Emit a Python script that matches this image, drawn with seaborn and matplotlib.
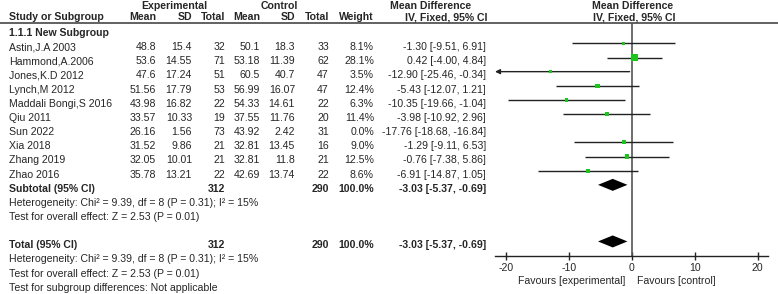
import matplotlib
matplotlib.use("Agg")
import matplotlib.pyplot as plt
import pandas as pd
import seaborn as sns

studies = ["Astin,J.A 2003", "Hammond,A.2006", "Jones,K.D 2012", "Lynch,M 2012",
           "Maddali Bongi,S 2016", "Qiu 2011", "Sun 2022", "Xia 2018",
           "Zhang 2019", "Zhao 2016"]
exp_mean = [48.8, 53.6, 47.6, 51.56, 43.98, 33.57, 26.16, 31.52, 32.05, 35.78]
exp_sd = [15.4, 14.55, 17.24, 17.79, 16.82, 10.33, 1.56, 9.86, 10.01, 13.21]
exp_n = [32, 71, 51, 53, 22, 19, 73, 21, 21, 22]
ctl_mean = [50.1, 53.18, 60.5, 56.99, 54.33, 37.55, 43.92, 32.81, 32.81, 42.69]
ctl_sd = [18.3, 11.39, 40.7, 16.07, 14.61, 11.76, 2.42, 13.45, 11.8, 13.74]
ctl_n = [33, 62, 47, 47, 22, 20, 31, 16, 21, 22]
weight = [8.1, 28.1, 3.5, 12.4, 6.3, 11.4, 0.0, 9.0, 12.5, 8.6]
md = [-1.30, 0.42, -12.90, -5.43, -10.35, -3.98, -17.76, -1.29, -0.76, -6.91]
ci_lo = [-9.51, -4.00, -25.46, -12.07, -19.66, -10.92, -18.68, -9.11, -7.38, -14.87]
ci_hi = [6.91, 4.84, -0.34, 1.21, -1.04, 2.96, -16.84, 6.53, 5.86, 1.05]

total_exp, total_ctl = 312, 290
pooled_md, pooled_lo, pooled_hi = -3.03, -5.37, -0.69
het_text = "Heterogeneity: Chi\u00b2 = 9.39, df = 8 (P = 0.31); I\u00b2 = 15%"
effect_text = "Test for overall effect: Z = 2.53 (P = 0.01)"
ticks = [-20, -10, 0, 10, 20]

sns.set_style("white")
plt.rcParams["font.family"] = ["Liberation Sans", "DejaVu Sans"]
FS = 7.6
LINE = "#222222"
GREEN = "#1ec41e"

fig = plt.figure(figsize=(7.78, 2.94), dpi=100)
ax = fig.add_axes([0, 0, 1, 1])
ax.set_xlim(0, 778)
ax.set_ylim(294, 0)
ax.axis("off")


def row_y(i):
    return 33 + 14.15 * i


# column right edges in pixels
cols = {"em": 156, "esd": 192, "en": 225, "cm": 260, "csd": 295, "cn": 329,
        "w": 374, "ci": 486}

# headers
ax.text(174, 6, "Experimental", fontsize=FS, weight="bold", ha="center", va="center")
ax.text(279, 6, "Control", fontsize=FS, weight="bold", ha="center", va="center")
ax.text(431, 6, "Mean Difference", fontsize=FS, weight="bold", ha="center", va="center")
ax.text(633, 6, "Mean Difference", fontsize=FS, weight="bold", ha="center", va="center")
hdr = dict(fontsize=FS, weight="bold", va="center")
ax.text(9, 17, "Study or Subgroup", ha="left", **hdr)
for key, lab in [("em", "Mean"), ("esd", "SD"), ("en", "Total"), ("cm", "Mean"),
                 ("csd", "SD"), ("cn", "Total"), ("w", "Weight")]:
    ax.text(cols[key], 17, lab, ha="right", **hdr)
ax.text(446, 17, "IV, Fixed, 95% CI", ha="center", **hdr)
ax.text(634, 17, "IV, Fixed, 95% CI", ha="center", **hdr)
ax.axhline(23, color="#555555", lw=1.3)

ax.text(9, row_y(0), "1.1.1 New Subgroup", fontsize=FS, weight="bold", va="center")

for i, name in enumerate(studies):
    y = row_y(i + 1)
    ax.text(9, y, name, fontsize=FS, va="center")
    vals = [("em", f"{exp_mean[i]:g}"), ("esd", f"{exp_sd[i]:g}"), ("en", f"{exp_n[i]}"),
            ("cm", f"{ctl_mean[i]:g}"), ("csd", f"{ctl_sd[i]:g}"), ("cn", f"{ctl_n[i]}"),
            ("w", f"{weight[i]:.1f}%"),
            ("ci", f"{md[i]:.2f} [{ci_lo[i]:.2f}, {ci_hi[i]:.2f}]")]
    for key, s in vals:
        ax.text(cols[key], y, s, fontsize=FS, ha="right", va="center")

pooled_ci = f"{pooled_md:.2f} [{pooled_lo:.2f}, {pooled_hi:.2f}]"
for r, label in [(11, "Subtotal (95% CI)"), (15, "Total (95% CI)")]:
    y = row_y(r)
    b = dict(fontsize=FS, weight="bold", va="center")
    ax.text(9, y, label, ha="left", **b)
    ax.text(cols["en"], y, str(total_exp), ha="right", **b)
    ax.text(cols["cn"], y, str(total_ctl), ha="right", **b)
    ax.text(cols["w"], y, "100.0%", ha="right", **b)
    ax.text(cols["ci"], y, pooled_ci, ha="right", **b)
    ax.text(9, row_y(r + 1), het_text, fontsize=FS, va="center")
    ax.text(9, row_y(r + 2), effect_text, fontsize=FS, va="center")
ax.text(9, row_y(18), "Test for subgroup differences: Not applicable", fontsize=FS, va="center")

ax.text(625, 281, "Favours [experimental]", fontsize=FS, ha="right", va="center")
ax.text(637, 281, "Favours [control]", fontsize=FS, ha="left", va="center")

# forest panel, y in the same pixel units as the text panel
fax = fig.add_axes([495 / 778, 1 - 256 / 294, (768 - 495) / 778, (256 - 23) / 294])
fax.patch.set_alpha(0)
xmin, xmax = -21.75, 21.66
off = 3.8

df = pd.DataFrame({"md": md, "lo": ci_lo, "hi": ci_hi, "weight": weight,
                   "y": [row_y(i + 1) - off for i in range(len(studies))]})
shown = df[df["weight"] > 0]
for _, r in shown.iterrows():
    if r["lo"] < xmin:
        fax.annotate("", xy=(xmin, r["y"]), xytext=(r["hi"], r["y"]),
                     arrowprops=dict(arrowstyle="-|>", color=LINE, lw=1,
                                     mutation_scale=7, shrinkA=0, shrinkB=0))
    else:
        fax.hlines(r["y"], r["lo"], r["hi"], color=LINE, lw=1)
sns.scatterplot(data=shown, x="md", y="y", size="weight", sizes=(0, 24),
                size_norm=(0, 28.1), marker="s", color=GREEN, linewidth=0,
                legend=False, ax=fax, zorder=3)

for r in (11, 15):
    yc = row_y(r) - off
    fax.fill([pooled_lo, pooled_md, pooled_hi, pooled_md],
             [yc, yc - 6, yc, yc + 6], color="black", lw=0, zorder=3)

fax.axvline(0, color="#555555", lw=1.2, zorder=1)
fax.set_xlim(xmin, xmax)
fax.set_ylim(256, 23)
fax.set_xlabel("")
fax.set_ylabel("")
fax.set_yticks([])
fax.set_xticks(ticks)
fax.set_xticklabels([str(t) for t in ticks])
fax.tick_params(axis="x", direction="inout", length=6, width=1, color=LINE,
                labelsize=FS, pad=2, bottom=True)
for side in ("top", "left", "right"):
    fax.spines[side].set_visible(False)
fax.spines["bottom"].set_color(LINE)
fax.spines["bottom"].set_linewidth(1)

fig.savefig("out.png", dpi=100)
